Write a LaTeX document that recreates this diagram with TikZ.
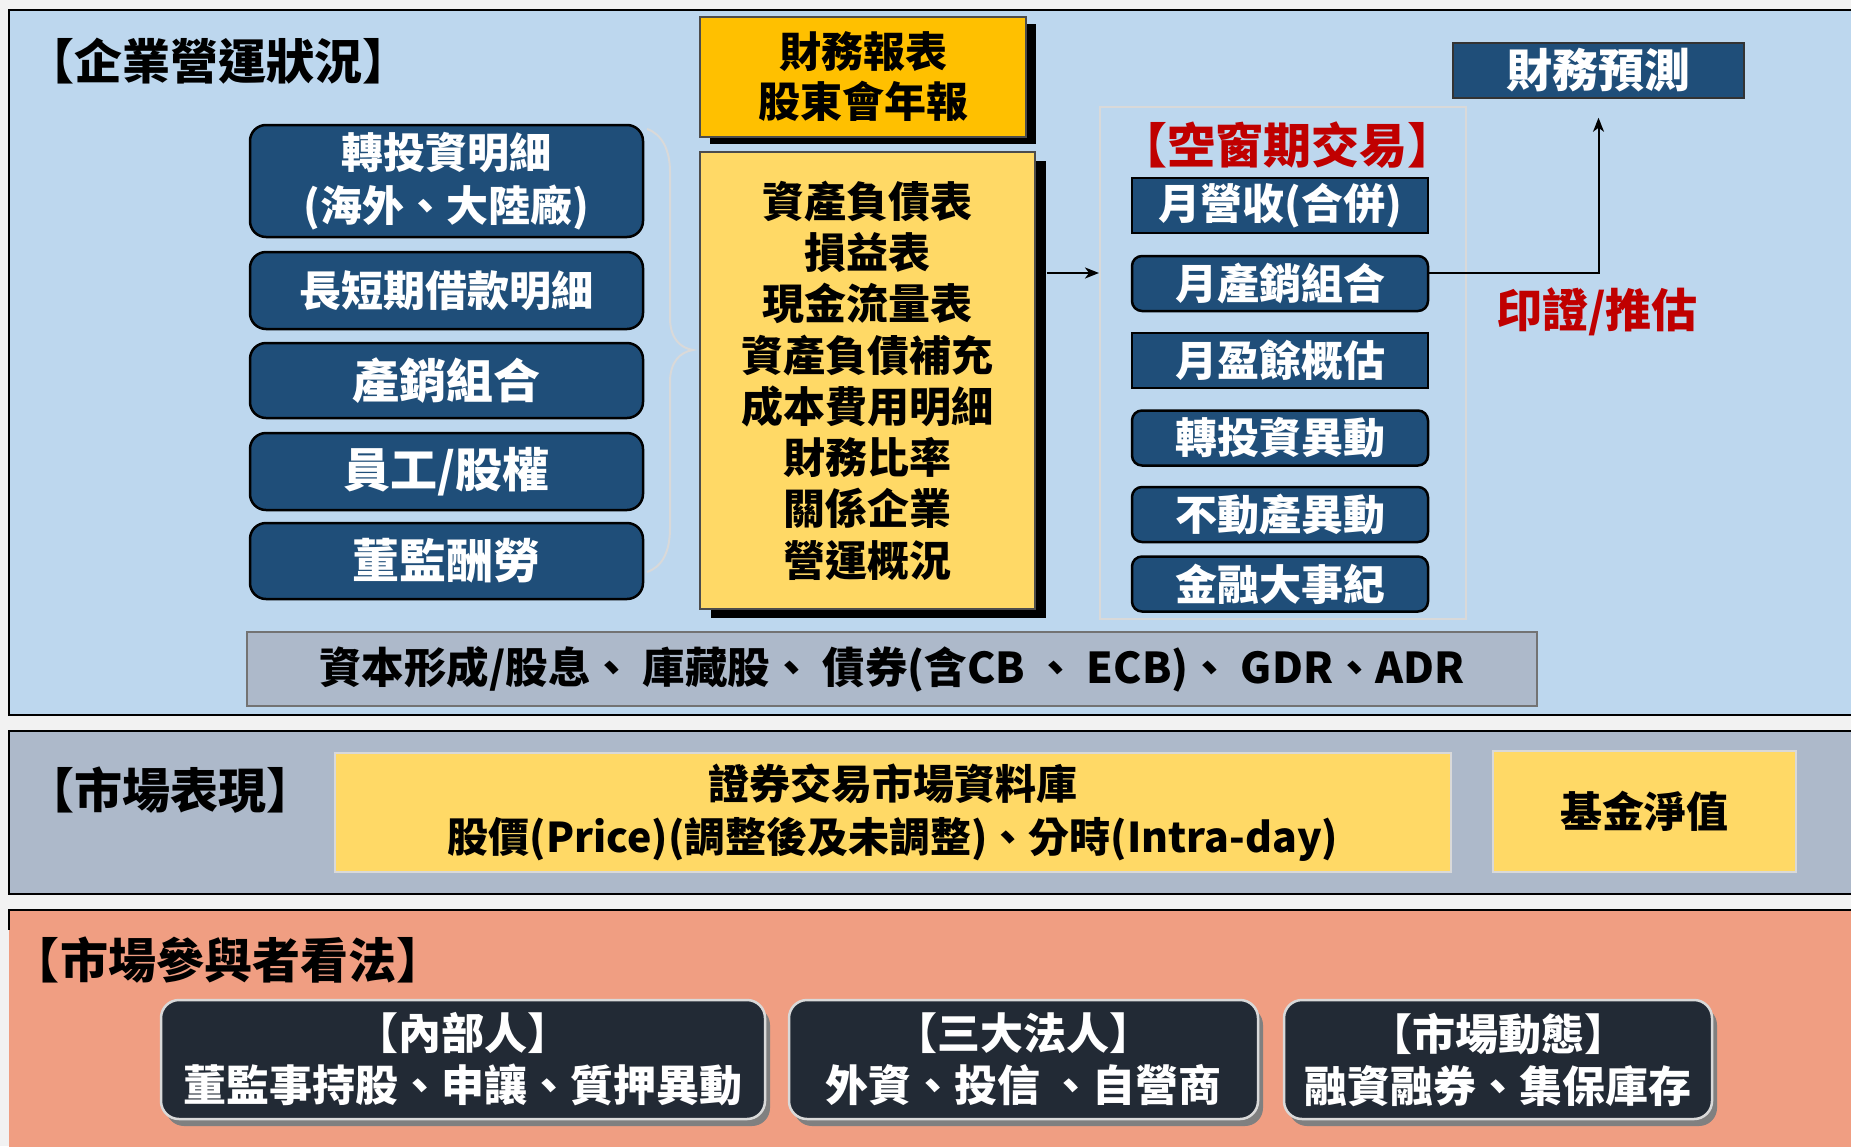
\documentclass[tikz,border=0pt]{standalone}
\usepackage{fontspec}
\setmainfont{Noto Sans CJK TC}
\usetikzlibrary{arrows.meta}
\definecolor{bgcol}{HTML}{F2F2F2}
\definecolor{panelblue}{HTML}{BDD7EE}
\definecolor{panelgray}{HTML}{ADB9CA}
\definecolor{panelsalmon}{HTML}{F09E82}
\definecolor{navy}{HTML}{1F4E79}
\definecolor{orangec}{HTML}{FFC000}
\definecolor{yellowc}{HTML}{FFD966}
\definecolor{darkc}{HTML}{222A35}
\definecolor{redc}{HTML}{C00000}
\definecolor{framecol}{HTML}{D9D9D9}
\newcommand{\fsz}[2]{\fontsize{#1}{#2}\selectfont}
\tikzset{
  navybox/.style={fill=navy, draw=black, line width=2.5pt, text=white, inner sep=0pt, align=center, font=\bfseries\fsz{42}{53}},
  navyround/.style={navybox, rounded corners=16pt},
  winbox/.style={navybox, minimum width=296pt, minimum height=55pt, font=\bfseries\fsz{42}{48}},
  winround/.style={winbox, rounded corners=10pt},
  leftbox/.style={navyround, minimum width=393pt},
  bigtext/.style={font=\bfseries\fsz{47}{53}},
  darkbox/.style={fill=darkc, draw=framecol, line width=2.5pt, rounded corners=18pt, text=white, inner sep=0pt, align=center, minimum height=119pt, font=\bfseries\fsz{43}{52}},
  shadowfill/.style={fill=black},
  title/.style={font=\bfseries\fsz{48}{54}, inner sep=0pt},
  conn/.style={line width=2pt, -{Stealth[length=14pt,width=11pt,inset=4pt]}}
}
\begin{document}
\begin{tikzpicture}[x=1pt,y=-1pt]
\useasboundingbox (0,0) rectangle (1851,1146);
\fill[bgcol] (0,0) rectangle (1851,1146);
% panels
\draw[fill=panelblue, line width=2.5pt] (9,10) rectangle (1870,715);
\draw[fill=panelgray, line width=2.5pt] (9,731) rectangle (1870,894);
\fill[panelsalmon] (9,910) rectangle (1870,1160);
\draw[line width=2.5pt] (1870,910) -- (9,910) -- (9,930);

% titles
\node[title] (t1) at (218,61) {【企業營運狀況】};
\node[title] (t2) at (170,790) {【市場表現】};
\node[title] (t3) at (228,960) {【市場參與者看法】};

% left boxes
\node[leftbox, minimum height=112pt] (l1) at (446.5,181) {轉投資明細\\(海外、大陸廠)};
\node[leftbox, minimum height=77pt] (l2) at (446.5,290.5) {長短期借款明細};
\node[leftbox, bigtext, minimum height=75pt] (l3) at (446.5,380.5) {產銷組合};
\node[leftbox, bigtext, minimum height=77pt] (l4) at (446.5,471.5) {員工/股權};
\node[leftbox, bigtext, minimum height=76pt] (l5) at (446.5,561) {董監酬勞};

% brace
\draw[framecol, line width=2pt] (647,129) .. controls (662,134) and (670,150) .. (670,172) -- (670,318) .. controls (670,338) and (680,348) .. (693,350) .. controls (680,352) and (670,362) .. (670,382) -- (670,528) .. controls (670,552) and (662,567) .. (647,572);

% orange box with shadow
\fill[shadowfill] (710,24) rectangle (1036,144);
\node[fill=orangec, draw=black!70, line width=1.5pt, minimum width=326pt, minimum height=120pt, inner sep=0pt, align=center, font=\bfseries\fsz{42}{50}] (fr) at (863,77) {財務報表\\股東會年報};

% yellow box with shadow
\fill[shadowfill] (711,161) rectangle (1046,618);
\node[fill=yellowc, draw=black!70, line width=1.5pt, minimum width=335pt, minimum height=457pt, inner sep=0pt, align=center, font=\bfseries\fsz{42}{51.3}] (fs) at (867.5,380.5) {資產負債表\\損益表\\現金流量表\\資產負債補充\\成本費用明細\\財務比率\\關係企業\\營運概況};

% window frame
\node[draw=framecol, line width=2pt, minimum width=366pt, minimum height=512pt, inner sep=0pt] (win) at (1283,363) {};
\node[title, text=redc] (wt) at (1287,145) {【空窗期交易】};
\node[winbox] (w1) at (1280,205.5) {月營收(合併)};
\node[winround] (w2) at (1280,283.5) {月產銷組合};
\node[winbox] (w3) at (1280,360.5) {月盈餘概估};
\node[winround] (w4) at (1280,438) {轉投資異動};
\node[winround] (w5) at (1280,514.5) {不動產異動};
\node[winround] (w6) at (1280,584) {金融大事紀};

% forecast
\node[fill=navy, draw=black!80, line width=1.5pt, text=white, minimum width=291pt, minimum height=55pt, inner sep=0pt, font=\bfseries\fsz{46}{50}] (fc) at (1598.5,70.5) {財務預測};
\node[text=redc, inner sep=0pt, font=\bfseries\fsz{46}{50}] (vr) at (1597,312) {印證/推估};

% connectors
\coordinate (ay) at (0,273);
\draw[conn] ([xshift=11pt]fs.east |- ay) -- (win.west |- ay);
\draw[conn] (w2.east |- ay) -| ([yshift=-19pt]fc.south);

% gray bar
\node[fill=panelgray, draw=black!55, line width=1.5pt, minimum width=1290pt, minimum height=74pt, inner sep=0pt, font=\bfseries\fsz{42.5}{50}] (gb) at (892,669) {資本形成/股息、 庫藏股、 債券(含CB 、 ECB)、 GDR、ADR};

% market performance
\node[fill=yellowc, draw=framecol, line width=1.5pt, minimum width=1116pt, minimum height=119pt, inner sep=0pt, align=center, font=\bfseries\fsz{41}{53}] (db) at (893,812.5) {證券交易市場資料庫\\股價(Price)(調整後及未調整)、分時(Intra-day)};
\node[fill=yellowc, draw=framecol, line width=1.5pt, minimum width=303pt, minimum height=121pt, inner sep=0pt, font=\bfseries\fsz{42}{50}] (nav) at (1644.5,811.5) {基金淨值};

% market participants
\fill[black!50, rounded corners=18pt] (166,1007) rectangle (770,1126);
\fill[black!50, rounded corners=18pt] (794,1007) rectangle (1263,1126);
\fill[black!50, rounded corners=18pt] (1289,1007) rectangle (1717,1126);
\node[darkbox, minimum width=604pt] (p1) at (463,1059.5) {【內部人】\\董監事持股、申讓、質押異動};
\node[darkbox, minimum width=469pt] (p2) at (1023.5,1059.5) {【三大法人】\\外資、投信 、自營商};
\node[darkbox, minimum width=428pt] (p3) at (1498,1059.5) {【市場動態】\\融資融券、集保庫存};
\end{tikzpicture}
\end{document}
